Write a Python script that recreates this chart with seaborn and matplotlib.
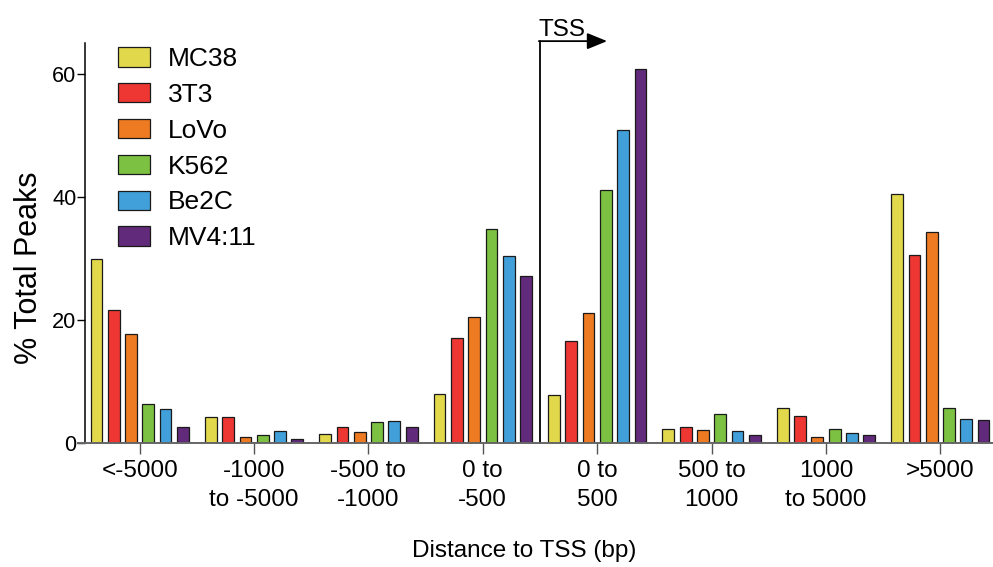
import seaborn as sns
import matplotlib.pyplot as plt
import pandas as pd

# distance bins (x axis) and cell lines (hue)
regions = ["<-5000", "-1000\nto -5000", "-500 to\n-1000", "0 to\n-500",
           "0 to\n500", "500 to\n1000", "1000\nto 5000", ">5000"]
cell_lines = ["MC38", "3T3", "LoVo", "K562", "Be2C", "MV4:11"]
colors = ["#E2D84B", "#EE3733", "#EE7A22", "#7DC142", "#41A0DA", "#622A7B"]

# % of total peaks in each bin, one list per cell line
mc38 = [29.8, 4.1, 1.4, 8.0, 7.8, 2.2, 5.7, 40.5]
t3t3 = [21.5, 4.1, 2.5, 17.1, 16.6, 2.5, 4.3, 30.6]
lovo = [17.7, 1.0, 1.8, 20.4, 21.1, 2.0, 1.0, 34.3]
k562 = [6.3, 1.2, 3.3, 34.8, 41.1, 4.7, 2.2, 5.6]
be2c = [5.5, 1.9, 3.5, 30.3, 50.9, 1.9, 1.5, 3.9]
mv411 = [2.5, 0.55, 2.5, 27.1, 60.7, 1.2, 1.2, 3.7]

values = [mc38, t3t3, lovo, k562, be2c, mv411]
df = pd.DataFrame([
    {"region": r, "line": cl, "pct": v}
    for cl, vals in zip(cell_lines, values)
    for r, v in zip(regions, vals)
])

sns.set_style("ticks", {"text.color": "black", "axes.labelcolor": "black",
                        "xtick.color": "black", "ytick.color": "black"})
plt.rcParams["font.family"] = ["Liberation Sans", "DejaVu Sans"]

fig, ax = plt.subplots(figsize=(9.93, 5.67), dpi=100)
fig.subplots_adjust(left=0.0859, right=1.0, bottom=0.2192, top=0.9242)

sns.barplot(data=df, x="region", y="pct", hue="line", order=regions,
            hue_order=cell_lines, palette=colors, saturation=1, width=0.907,
            gap=0.32, edgecolor="#1a1a1a", linewidth=0.9, errorbar=None, ax=ax)

ax.set_xlim(-0.475, 7.46)
ax.set_ylim(0, 65)
ax.set_yticks([0, 20, 40, 60])
sns.despine(ax=ax)
ax.spines["left"].set_color("black")
ax.spines["left"].set_linewidth(1.1)
ax.spines["bottom"].set_color("#666666")
ax.spines["bottom"].set_linewidth(1.4)
ax.spines["bottom"].set_bounds(-0.536, 7.46)

ax.tick_params(axis="y", length=6, width=1, pad=0.5, labelsize=15.7,
               colors="black")
ax.tick_params(axis="x", length=8, width=1, pad=4.5, labelsize=17.5,
               color="#555555", labelcolor="black")
for lab in ax.get_xticklabels():
    lab.set_linespacing(1.4)

ax.set_ylabel("% Total Peaks", fontsize=22)
ax.yaxis.set_label_coords(-0.046, 0.437)
ax.set_xlabel("Distance to TSS (bp)", fontsize=17.5)
ax.xaxis.label.set_va("baseline")
ax.xaxis.set_label_coords(0.4835, -0.285)

# TSS marker: bent arrow between the two promoter-proximal bins
ax.plot([3.5, 3.5], [0, 65.3], color="black", lw=1.3, clip_on=False)
ax.annotate("", xy=(4.086, 65.3), xytext=(3.49, 65.3), annotation_clip=False,
            arrowprops=dict(arrowstyle="-|>,head_length=1.22,head_width=0.5",
                            mutation_scale=10, color="black", lw=1.3,
                            shrinkA=0, shrinkB=0))
ax.text(3.49, 66.2, "TSS", fontsize=17.5, ha="left", va="baseline")

sns.move_legend(ax, "upper left", bbox_to_anchor=(0.036, 0.99), frameon=False,
                title=None, fontsize=19, handlelength=1.2, handleheight=0.76,
                handletextpad=0.68, labelspacing=0.45, borderpad=0,
                borderaxespad=0)

plt.savefig("out.png", dpi=100)
